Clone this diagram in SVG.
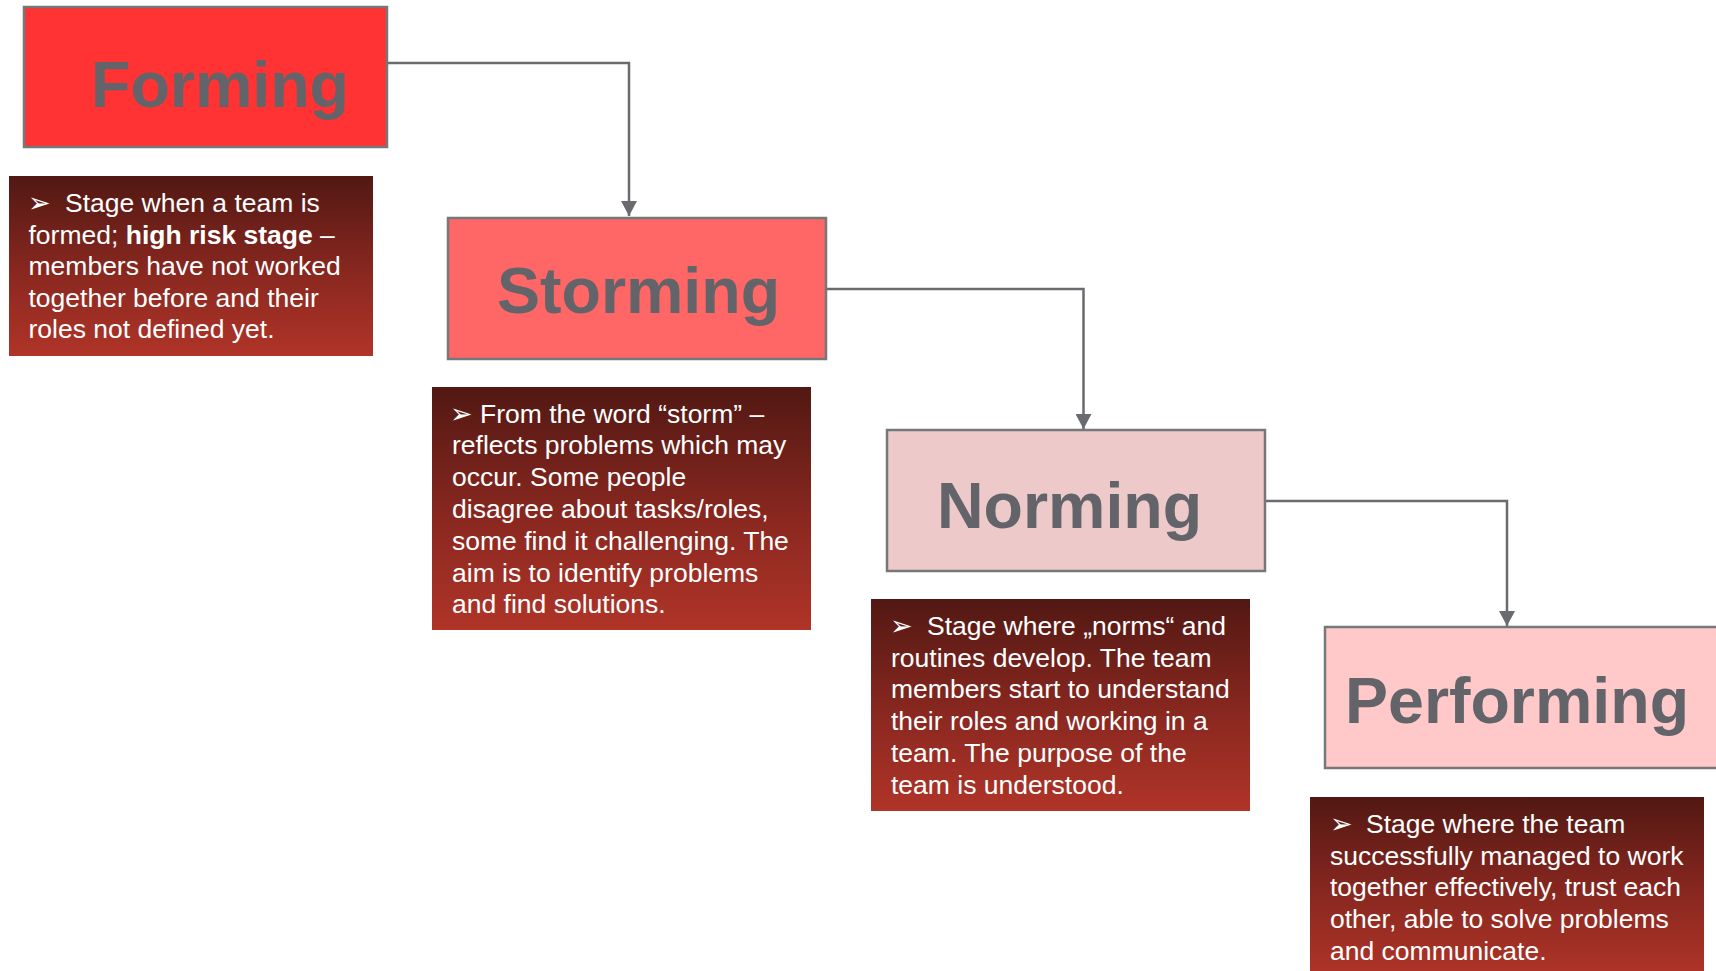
<svg xmlns="http://www.w3.org/2000/svg" width="1716" height="971" viewBox="0 0 1716 971">
<defs>
<linearGradient id="desc" x1="0" y1="0" x2="0" y2="1">
<stop offset="0" stop-color="#521813"/>
<stop offset="0.55" stop-color="#8a2820"/>
<stop offset="1" stop-color="#b03428"/>
</linearGradient>
<marker id="arr" markerWidth="16" markerHeight="16" refX="15" refY="8" orient="auto" markerUnits="userSpaceOnUse">
<path d="M0,0 L15,8 L0,16 z" fill="#6a6b6f"/>
</marker>
<style>
.stage{stroke:#76777a;stroke-width:2.5}
.title{font-family:"Liberation Sans",Arial,sans-serif;font-weight:bold;font-size:64.5px;fill:#626469}
.desc{font-family:"Liberation Sans",Arial,sans-serif;font-size:26.5px;fill:#ffffff}
.bul{font-family:"DejaVu Sans",sans-serif;font-size:27px;fill:#ffffff}
.conn{fill:none;stroke:#6a6b6f;stroke-width:2.5}
</style>
</defs>
<rect width="1716" height="971" fill="#ffffff"/>
<g id="connectors">
<path class="conn" d="M387,63 H629 V216" marker-end="url(#arr)"/>
<path class="conn" d="M826,289 H1083.5 V429" marker-end="url(#arr)"/>
<path class="conn" d="M1265,501 H1507 V626" marker-end="url(#arr)"/>
</g>
<g id="forming">
<rect class="stage" x="24" y="7" width="363" height="140" fill="#ff3333"/>
<text class="title" x="91" y="107">Forming</text>
</g>
<g id="forming-desc">
<rect x="9" y="176" width="364" height="180" fill="url(#desc)"/>
<text class="bul" x="28" y="212">➢</text>
<text class="desc" x="65" y="212">Stage when a team is</text>
<text class="desc" x="28.5" y="243.5">formed; <tspan font-weight="bold">high risk stage</tspan> –</text>
<text class="desc" x="28.5" y="275">members have not worked</text>
<text class="desc" x="28.5" y="306.5">together before and their</text>
<text class="desc" x="28.5" y="338">roles not defined yet.</text>
</g>
<g id="storming">
<rect class="stage" x="448" y="218" width="378" height="141" fill="#ff6666"/>
<text class="title" x="497" y="313">Storming</text>
</g>
<g id="storming-desc">
<rect x="432" y="387" width="379" height="243" fill="url(#desc)"/>
<text class="bul" x="450" y="422.5">➢</text>
<text class="desc" x="480" y="422.5">From the word “storm” –</text>
<text class="desc" x="452" y="454.3">reflects problems which may</text>
<text class="desc" x="452" y="486.1">occur. Some people</text>
<text class="desc" x="452" y="517.9">disagree about tasks/roles,</text>
<text class="desc" x="452" y="549.7">some find it challenging. The</text>
<text class="desc" x="452" y="581.5">aim is to identify problems</text>
<text class="desc" x="452" y="613.3">and find solutions.</text>
</g>
<g id="norming">
<rect class="stage" x="887" y="430" width="378" height="141" fill="#edc9c9"/>
<text class="title" x="937" y="527.5">Norming</text>
</g>
<g id="norming-desc">
<rect x="871" y="599" width="379" height="212" fill="url(#desc)"/>
<text class="bul" x="890" y="635">➢</text>
<text class="desc" x="927" y="635">Stage where „norms“ and</text>
<text class="desc" x="891" y="666.7">routines develop. The team</text>
<text class="desc" x="891" y="698.4">members start to understand</text>
<text class="desc" x="891" y="730.1">their roles and working in a</text>
<text class="desc" x="891" y="761.8">team. The purpose of the</text>
<text class="desc" x="891" y="793.5">team is understood.</text>
</g>
<g id="performing">
<rect class="stage" x="1325" y="627" width="420" height="141" fill="#ffc9c9"/>
<text class="title" x="1345" y="723">Performing</text>
</g>
<g id="performing-desc">
<rect x="1310" y="797" width="394" height="180" fill="url(#desc)"/>
<text class="bul" x="1330" y="833">➢</text>
<text class="desc" x="1366" y="833">Stage where the team</text>
<text class="desc" x="1330" y="864.7">successfully managed to work</text>
<text class="desc" x="1330" y="896.4">together effectively, trust each</text>
<text class="desc" x="1330" y="928.1">other, able to solve problems</text>
<text class="desc" x="1330" y="959.8">and communicate.</text>
</g>
</svg>
